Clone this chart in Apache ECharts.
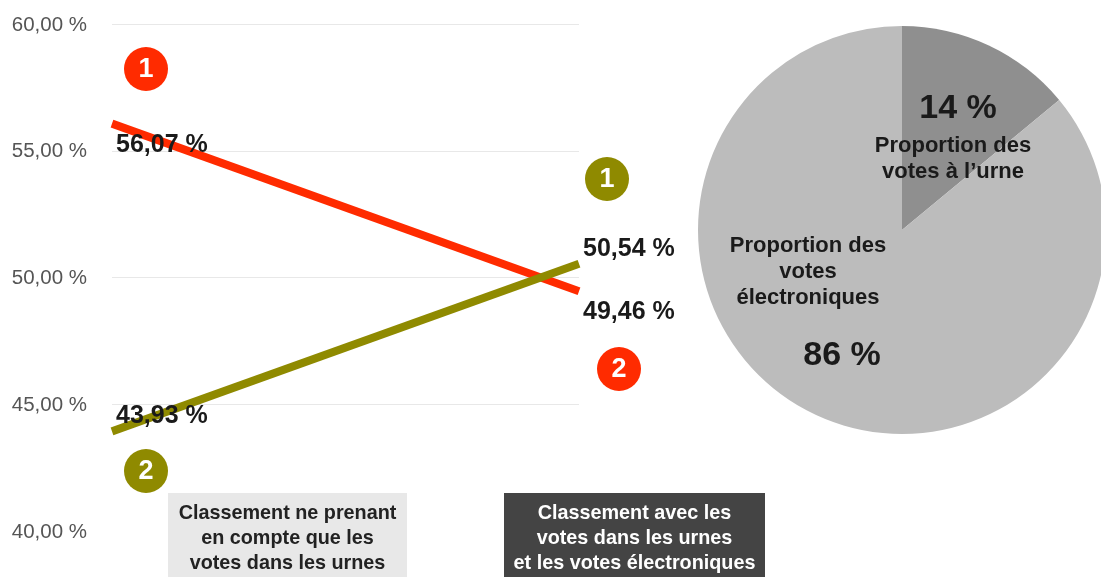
<!DOCTYPE html>
<html>
<head>
    <meta charset="utf-8"/>
    <script src="https://cdn.jsdelivr.net/npm/echarts@6/dist/echarts.min.js"></script>
    <style>
        html, body { margin: 0; padding: 0; background: #fff; }
    </style>
</head>
<body>
<div id="main" style="width: 1101px;height:577px;"></div>
<script type="text/javascript">
    // values
    var categories = ['Classement ne prenant\nen compte que les\nvotes dans les urnes',
        'Classement avec les\nvotes dans les urnes\net les votes électroniques'];
    var redValues = [56.07, 49.46];
    var oliveValues = [43.93, 50.54];
    var pieNames = ['Proportion des\nvotes à l’urne', 'Proportion des\nvotes\nélectroniques'];
    var pieValues = [14, 86];

    var RED = '#ff2b00';
    var OLIVE = '#8f8a00';
    var FONT = '"Liberation Sans", Arial, sans-serif';

    function pct(v) {
        return v.toFixed(2).replace('.', ',') + ' %';
    }

    function pointLabel(value, offset) {
        return {
            value: value,
            label: {
                show: true,
                position: 'right',
                offset: offset,
                formatter: pct(value),
                color: '#1a1a1a',
                fontFamily: FONT,
                fontWeight: 'bold',
                fontSize: 25
            }
        };
    }

    function centeredText(x, y, text, color, size, lineHeight) {
        return {
            type: 'text',
            x: x,
            y: y,
            style: {
                text: text,
                fill: color,
                font: 'bold ' + size + 'px ' + FONT,
                lineHeight: lineHeight,
                align: 'center',
                verticalAlign: 'middle'
            },
            z: 20
        };
    }

    function badge(x, y, color, text) {
        return [{
            type: 'circle',
            shape: {cx: x, cy: y, r: 22},
            style: {fill: color},
            z: 10
        }, centeredText(x, y + 1, text, '#ffffff', 27, 30)];
    }

    function captionBox(x, width, fill, color, text) {
        return [{
            type: 'rect',
            shape: {x: x, y: 493, width: width, height: 84},
            style: {fill: fill},
            z: 10
        }, centeredText(x + width / 2, 539, text, color, 19.8, 25)];
    }

    var myChart = echarts.init(document.getElementById('main'));

    var option = {
        animation: false,
        grid: {
            left: 112,
            right: 522,
            top: 24,
            bottom: 46
        },
        xAxis: {
            type: 'category',
            boundaryGap: false,
            data: categories,
            axisLine: {show: false},
            axisTick: {show: false},
            axisLabel: {show: false}
        },
        yAxis: {
            type: 'value',
            min: 40,
            max: 60,
            interval: 5,
            axisLine: {show: false},
            axisTick: {show: false},
            axisLabel: {
                margin: 25,
                // nudges the text a little below the grid line
                verticalAlign: 'top',
                lineHeight: 2,
                color: '#555555',
                fontFamily: FONT,
                fontSize: 20.5,
                formatter: pct
            },
            splitLine: {
                showMinLine: false,
                lineStyle: {color: '#e8e8e8', width: 1}
            }
        },
        series: [{
            type: 'line',
            data: [pointLabel(redValues[0], [-1, 21]), pointLabel(redValues[1], [-1, 21])],
            symbol: 'circle',
            symbolSize: 0,
            silent: true,
            lineStyle: {color: RED, width: 8, cap: 'butt'}
        }, {
            type: 'line',
            data: [pointLabel(oliveValues[0], [-1, -15]), pointLabel(oliveValues[1], [-1, -15])],
            symbol: 'circle',
            symbolSize: 0,
            silent: true,
            lineStyle: {color: OLIVE, width: 8, cap: 'butt'}
        }, {
            type: 'pie',
            center: [902, 230],
            radius: 204,
            startAngle: 90,
            silent: true,
            label: {show: false},
            labelLine: {show: false},
            data: [
                {name: pieNames[0], value: pieValues[0], itemStyle: {color: '#8f8f8f'}},
                {name: pieNames[1], value: pieValues[1], itemStyle: {color: '#bcbcbc'}}
            ]
        }],
        graphic: [].concat(
            badge(146, 69, RED, '1'),
            badge(146, 471, OLIVE, '2'),
            badge(607, 179, OLIVE, '1'),
            badge(619, 369, RED, '2'),
            captionBox(168, 239, '#e8e8e8', '#222222', categories[0]),
            captionBox(504, 261, '#444444', '#ffffff', categories[1]),
            centeredText(958, 109, pieValues[0] + ' %', '#1a1a1a', 34, 34),
            centeredText(953, 159, pieNames[0], '#1a1a1a', 22, 26),
            centeredText(808, 272, pieNames[1], '#1a1a1a', 22, 26),
            centeredText(842, 356, pieValues[1] + ' %', '#1a1a1a', 34, 34)
        )
    };

    myChart.setOption(option);
</script>
</body>
</html>
